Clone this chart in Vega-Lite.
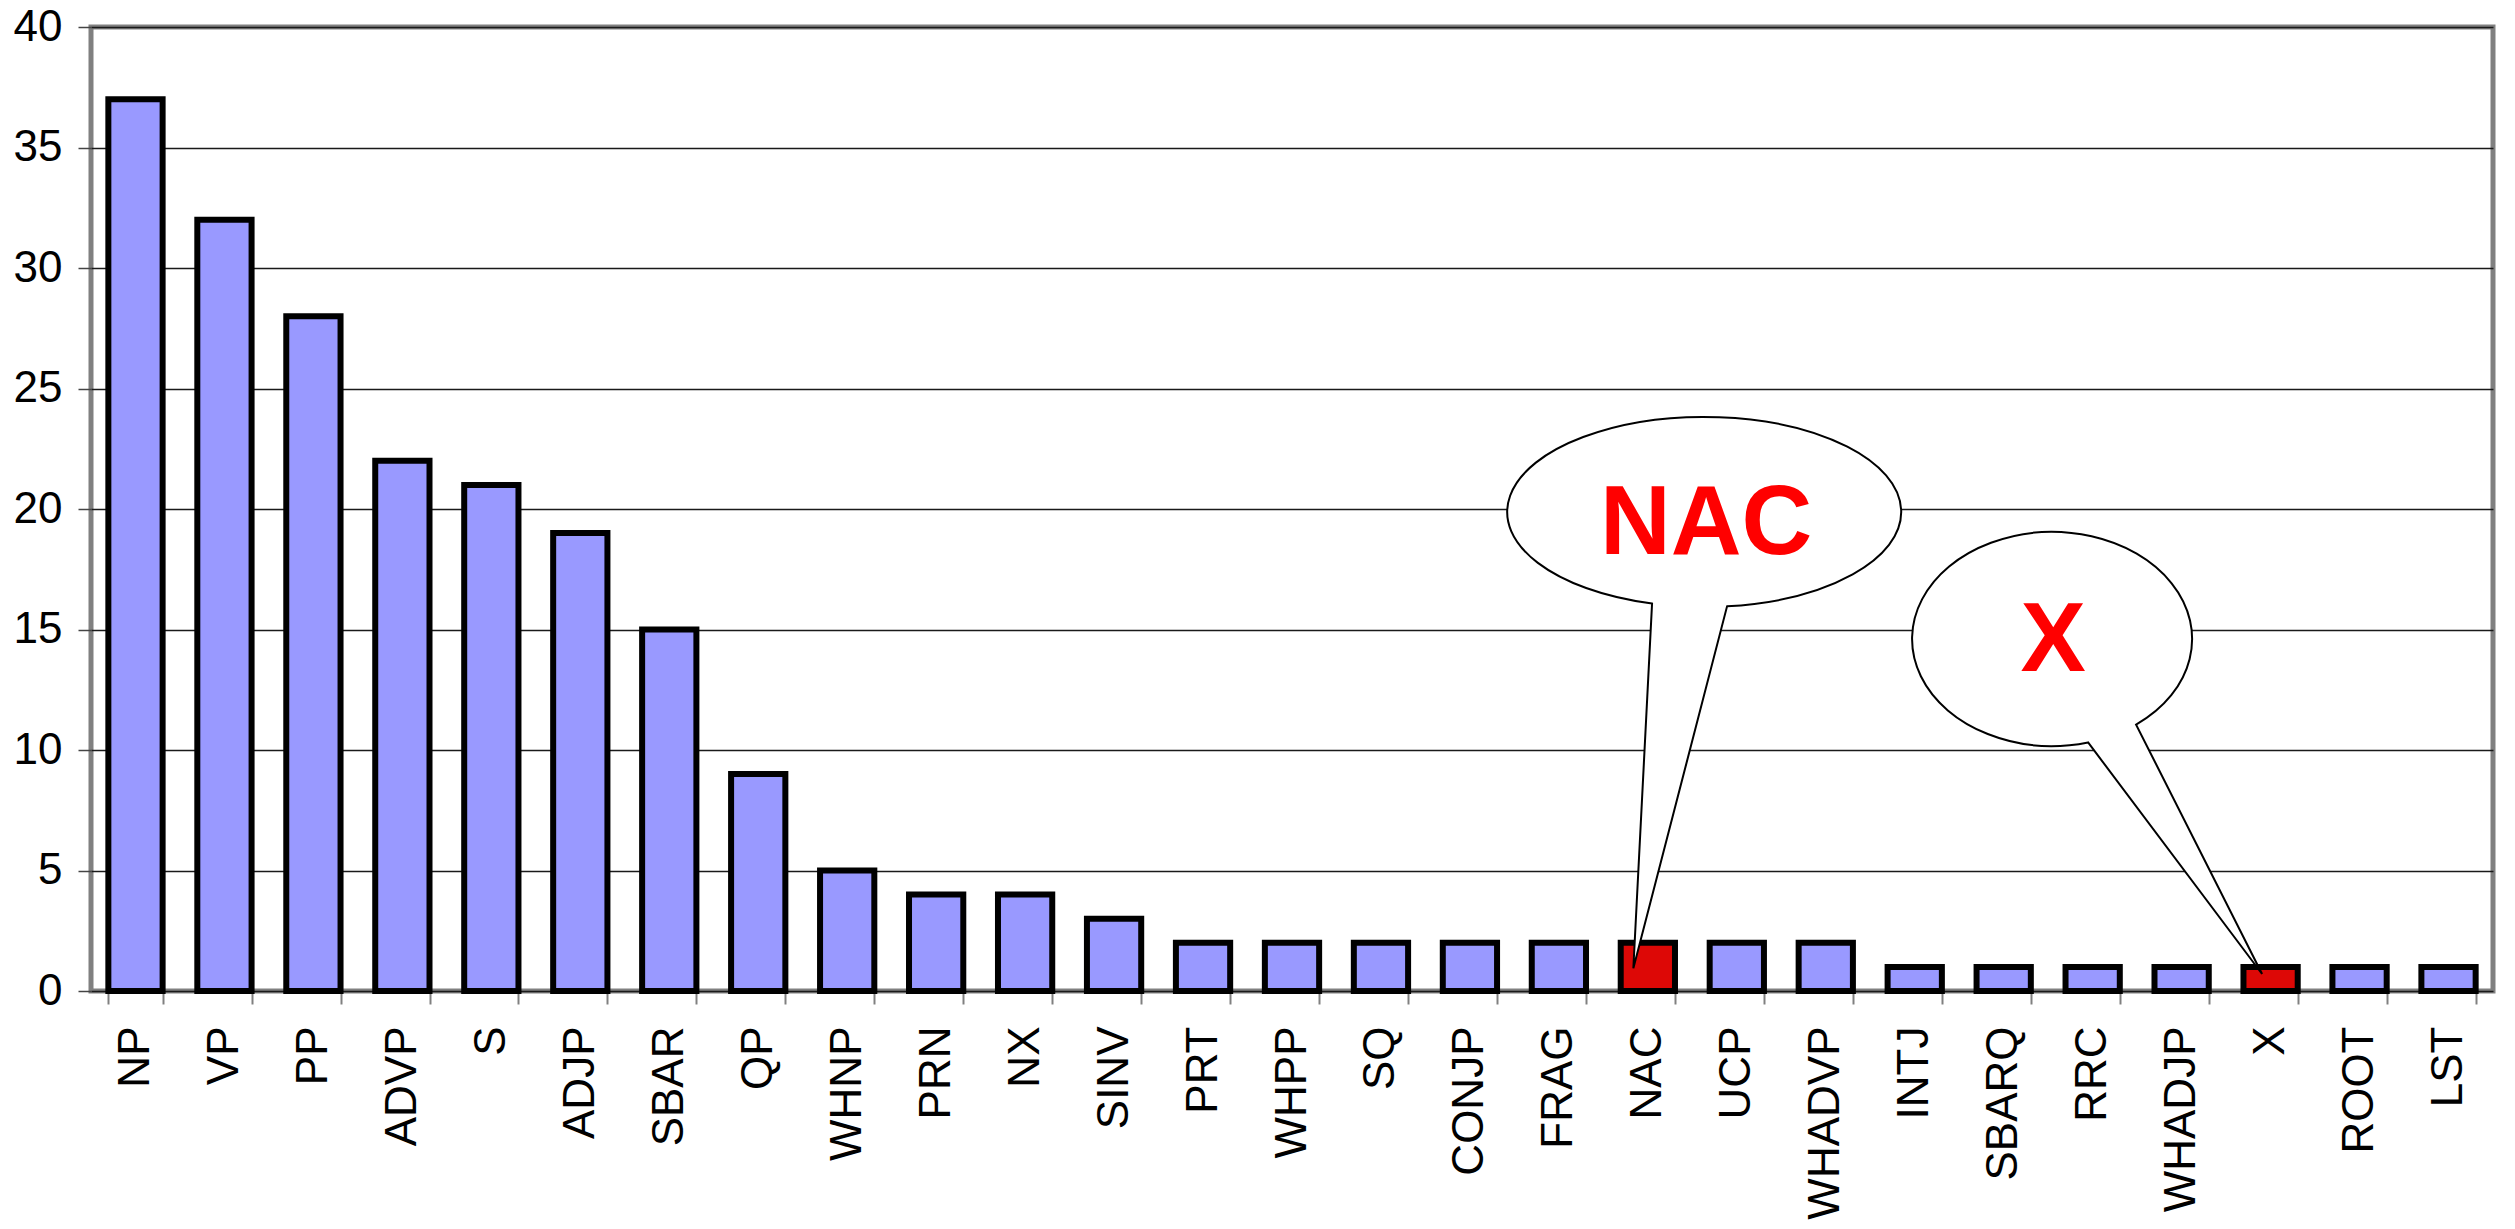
{
  "$schema": "https://vega.github.io/schema/vega-lite/v6.json",
  "autosize": {"type": "none"},
  "padding": {"left": 91, "top": 27, "right": 22, "bottom": 238},
  "width": 2402,
  "height": 964,
  "background": "white",
  "config": {
    "view": {"stroke": "#808080", "strokeWidth": 5},
    "font": "Liberation Sans"
  },
  "datasets": {
    "counts": [
      {"cat": "NP", "count": 37},
      {"cat": "VP", "count": 32},
      {"cat": "PP", "count": 28},
      {"cat": "ADVP", "count": 22},
      {"cat": "S", "count": 21},
      {"cat": "ADJP", "count": 19},
      {"cat": "SBAR", "count": 15},
      {"cat": "QP", "count": 9},
      {"cat": "WHNP", "count": 5},
      {"cat": "PRN", "count": 4},
      {"cat": "NX", "count": 4},
      {"cat": "SINV", "count": 3},
      {"cat": "PRT", "count": 2},
      {"cat": "WHPP", "count": 2},
      {"cat": "SQ", "count": 2},
      {"cat": "CONJP", "count": 2},
      {"cat": "FRAG", "count": 2},
      {"cat": "NAC", "count": 2},
      {"cat": "UCP", "count": 2},
      {"cat": "WHADVP", "count": 2},
      {"cat": "INTJ", "count": 1},
      {"cat": "SBARQ", "count": 1},
      {"cat": "RRC", "count": 1},
      {"cat": "WHADJP", "count": 1},
      {"cat": "X", "count": 1},
      {"cat": "ROOT", "count": 1},
      {"cat": "LST", "count": 1}
    ]
  },
  "data": {"name": "counts"},
  "encoding": {
    "x": {
      "field": "cat",
      "type": "nominal",
      "sort": null,
      "scale": {
        "domain": ["NP", "VP", "PP", "ADVP", "S", "ADJP", "SBAR", "QP", "WHNP", "PRN", "NX", "SINV", "PRT", "WHPP", "SQ", "CONJP", "FRAG", "NAC", "UCP", "WHADVP", "INTJ", "SBARQ", "RRC", "WHADJP", "X", "ROOT", "LST"],
        "paddingInner": 0.39,
        "paddingOuter": 0.195
      },
      "axis": {
        "title": null,
        "domain": false,
        "grid": false,
        "labelAngle": -90,
        "labelFont": "Liberation Sans",
        "labelFontSize": 44,
        "labelColor": "#000000",
        "labelPadding": 22,
        "labelLimit": 0,
        "labelOverlap": false,
        "ticks": true,
        "tickBand": "extent",
        "tickSize": 13,
        "tickColor": "#808080",
        "tickWidth": 2
      }
    },
    "y": {
      "field": "count",
      "type": "quantitative",
      "scale": {"domain": [0, 40], "nice": false},
      "axis": {
        "title": null,
        "domain": false,
        "values": [0, 5, 10, 15, 20, 25, 30, 35, 40],
        "grid": true,
        "gridColor": "#1a1a1a",
        "gridWidth": 1.3,
        "ticks": true,
        "tickSize": 13,
        "tickColor": "#444444",
        "tickWidth": 1.5,
        "labelFont": "Liberation Sans",
        "labelFontSize": 44,
        "labelColor": "#000000",
        "labelPadding": 16,
        "labelLimit": 0,
        "labelOverlap": false
      }
    }
  },
  "layer": [
    {
      "mark": {"type": "bar", "stroke": "#000000", "strokeWidth": 6},
      "encoding": {
        "color": {
          "condition": {"test": "datum.cat === 'NAC' || datum.cat === 'X'", "value": "#DD0806"},
          "value": "#9999FF"
        }
      }
    },
    {
      "transform": [{"filter": "datum.cat === 'NAC'"}],
      "mark": {
        "type": "point",
        "shape": "M-14.5,25.5L4.2,-339.2A197,95 0 1 1 79.2,-336.45Z",
        "size": 4,
        "filled": true,
        "fill": "#ffffff",
        "stroke": "#000000",
        "strokeWidth": 2,
        "opacity": 1
      }
    },
    {
      "transform": [{"filter": "datum.cat === 'NAC'"}],
      "mark": {
        "type": "text",
        "font": "Liberation Sans",
        "fontWeight": "bold",
        "fontSize": 98,
        "color": "#FF0000",
        "align": "center",
        "baseline": "alphabetic",
        "dx": 58.2,
        "dy": -389.3
      },
      "encoding": {"text": {"field": "cat"}}
    },
    {
      "transform": [{"filter": "datum.cat === 'X'"}],
      "mark": {
        "type": "point",
        "shape": "M-8.5,7.1L-182.5,-224.5A140,107 0 1 1 -134.5,-242.3Z",
        "size": 4,
        "filled": true,
        "fill": "#ffffff",
        "stroke": "#000000",
        "strokeWidth": 2,
        "opacity": 1
      }
    },
    {
      "transform": [{"filter": "datum.cat === 'X'"}],
      "mark": {
        "type": "text",
        "font": "Liberation Sans",
        "fontWeight": "bold",
        "fontSize": 98,
        "color": "#FF0000",
        "align": "center",
        "baseline": "alphabetic",
        "dx": -217.5,
        "dy": -296.2
      },
      "encoding": {"text": {"field": "cat"}}
    }
  ]
}
